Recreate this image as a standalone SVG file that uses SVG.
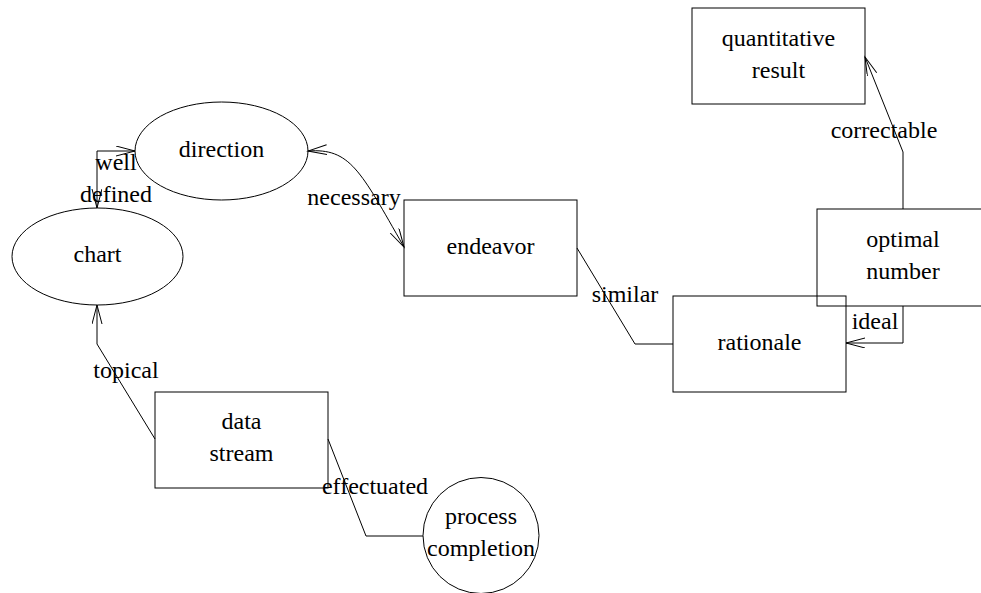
<svg xmlns="http://www.w3.org/2000/svg" width="981" height="593" viewBox="0 0 981 593">
<style>
.n{fill:none;stroke:#000;stroke-width:1}
.t{font-family:"Liberation Serif","Times New Roman","DejaVu Serif",serif;font-size:24px;fill:#000;text-anchor:middle}
.l{font-family:"Liberation Serif","Times New Roman","DejaVu Serif",serif;font-size:24px;fill:#000;text-anchor:middle}
.c{fill:none;stroke:#000;stroke-width:1}
</style>
<defs>
<marker id="a" markerUnits="userSpaceOnUse" markerWidth="22" markerHeight="12" refX="19" refY="5" orient="auto-start-reverse" viewBox="0 0 22 12">
<path d="M0,0 L19,5 L0,10" fill="none" stroke="#000" stroke-width="1"/>
</marker>
</defs>
<rect width="981" height="593" fill="#fff"/>
<g id="connectors">
<path class="c" d="M97,208 L97,151 L135,151" marker-start="url(#a)" marker-end="url(#a)"/>
<path class="c" d="M308,151 C350,148 360,170 404,247" marker-start="url(#a)" marker-end="url(#a)"/>
<path class="c" d="M577,248 L635,344 L673,344"/>
<path class="c" d="M903,306 L903,343 L846,343" marker-end="url(#a)"/>
<path class="c" d="M903,209 L903,152 L865,57" marker-end="url(#a)"/>
<path class="c" d="M155,439 L97,344 L97,305" marker-end="url(#a)"/>
<path class="c" d="M328,439 L366,536 L423,536"/>
</g>
<g id="direction">
<ellipse class="n" cx="221.5" cy="151" rx="86.5" ry="49"/>
<text class="t" x="221.5" y="157">direction</text>
</g>
<g id="chart">
<ellipse class="n" cx="97.5" cy="256.5" rx="85.5" ry="48.5"/>
<text class="t" x="97.5" y="262">chart</text>
</g>
<g id="endeavor">
<rect class="n" x="404" y="200" width="173" height="96"/>
<text class="t" x="490.5" y="254">endeavor</text>
</g>
<g id="rationale">
<rect class="n" x="673" y="296" width="173" height="96"/>
<text class="t" x="759.5" y="350">rationale</text>
</g>
<g id="optimal_number">
<rect class="n" x="817" y="209" width="173" height="97"/>
<text class="t" x="903" y="247">optimal</text>
<text class="t" x="903" y="279">number</text>
</g>
<g id="quantitative_result">
<rect class="n" x="692" y="8" width="173" height="96"/>
<text class="t" x="778.5" y="46">quantitative</text>
<text class="t" x="778.5" y="78">result</text>
</g>
<g id="data_stream">
<rect class="n" x="155" y="392" width="173" height="96"/>
<text class="t" x="241.5" y="429">data</text>
<text class="t" x="241.5" y="461">stream</text>
</g>
<g id="process_completion">
<circle class="n" cx="481" cy="535.5" r="58"/>
<text class="t" x="481" y="524">process</text>
<text class="t" x="481" y="556">completion</text>
</g>
<g id="labels">
<text class="l" x="116" y="170">well</text>
<text class="l" x="116" y="202">defined</text>
<text class="l" x="354" y="205">necessary</text>
<text class="l" x="625" y="302">similar</text>
<text class="l" x="875" y="329">ideal</text>
<text class="l" x="884" y="138">correctable</text>
<text class="l" x="126" y="378">topical</text>
<text class="l" x="375" y="494">effectuated</text>
</g>
</svg>
